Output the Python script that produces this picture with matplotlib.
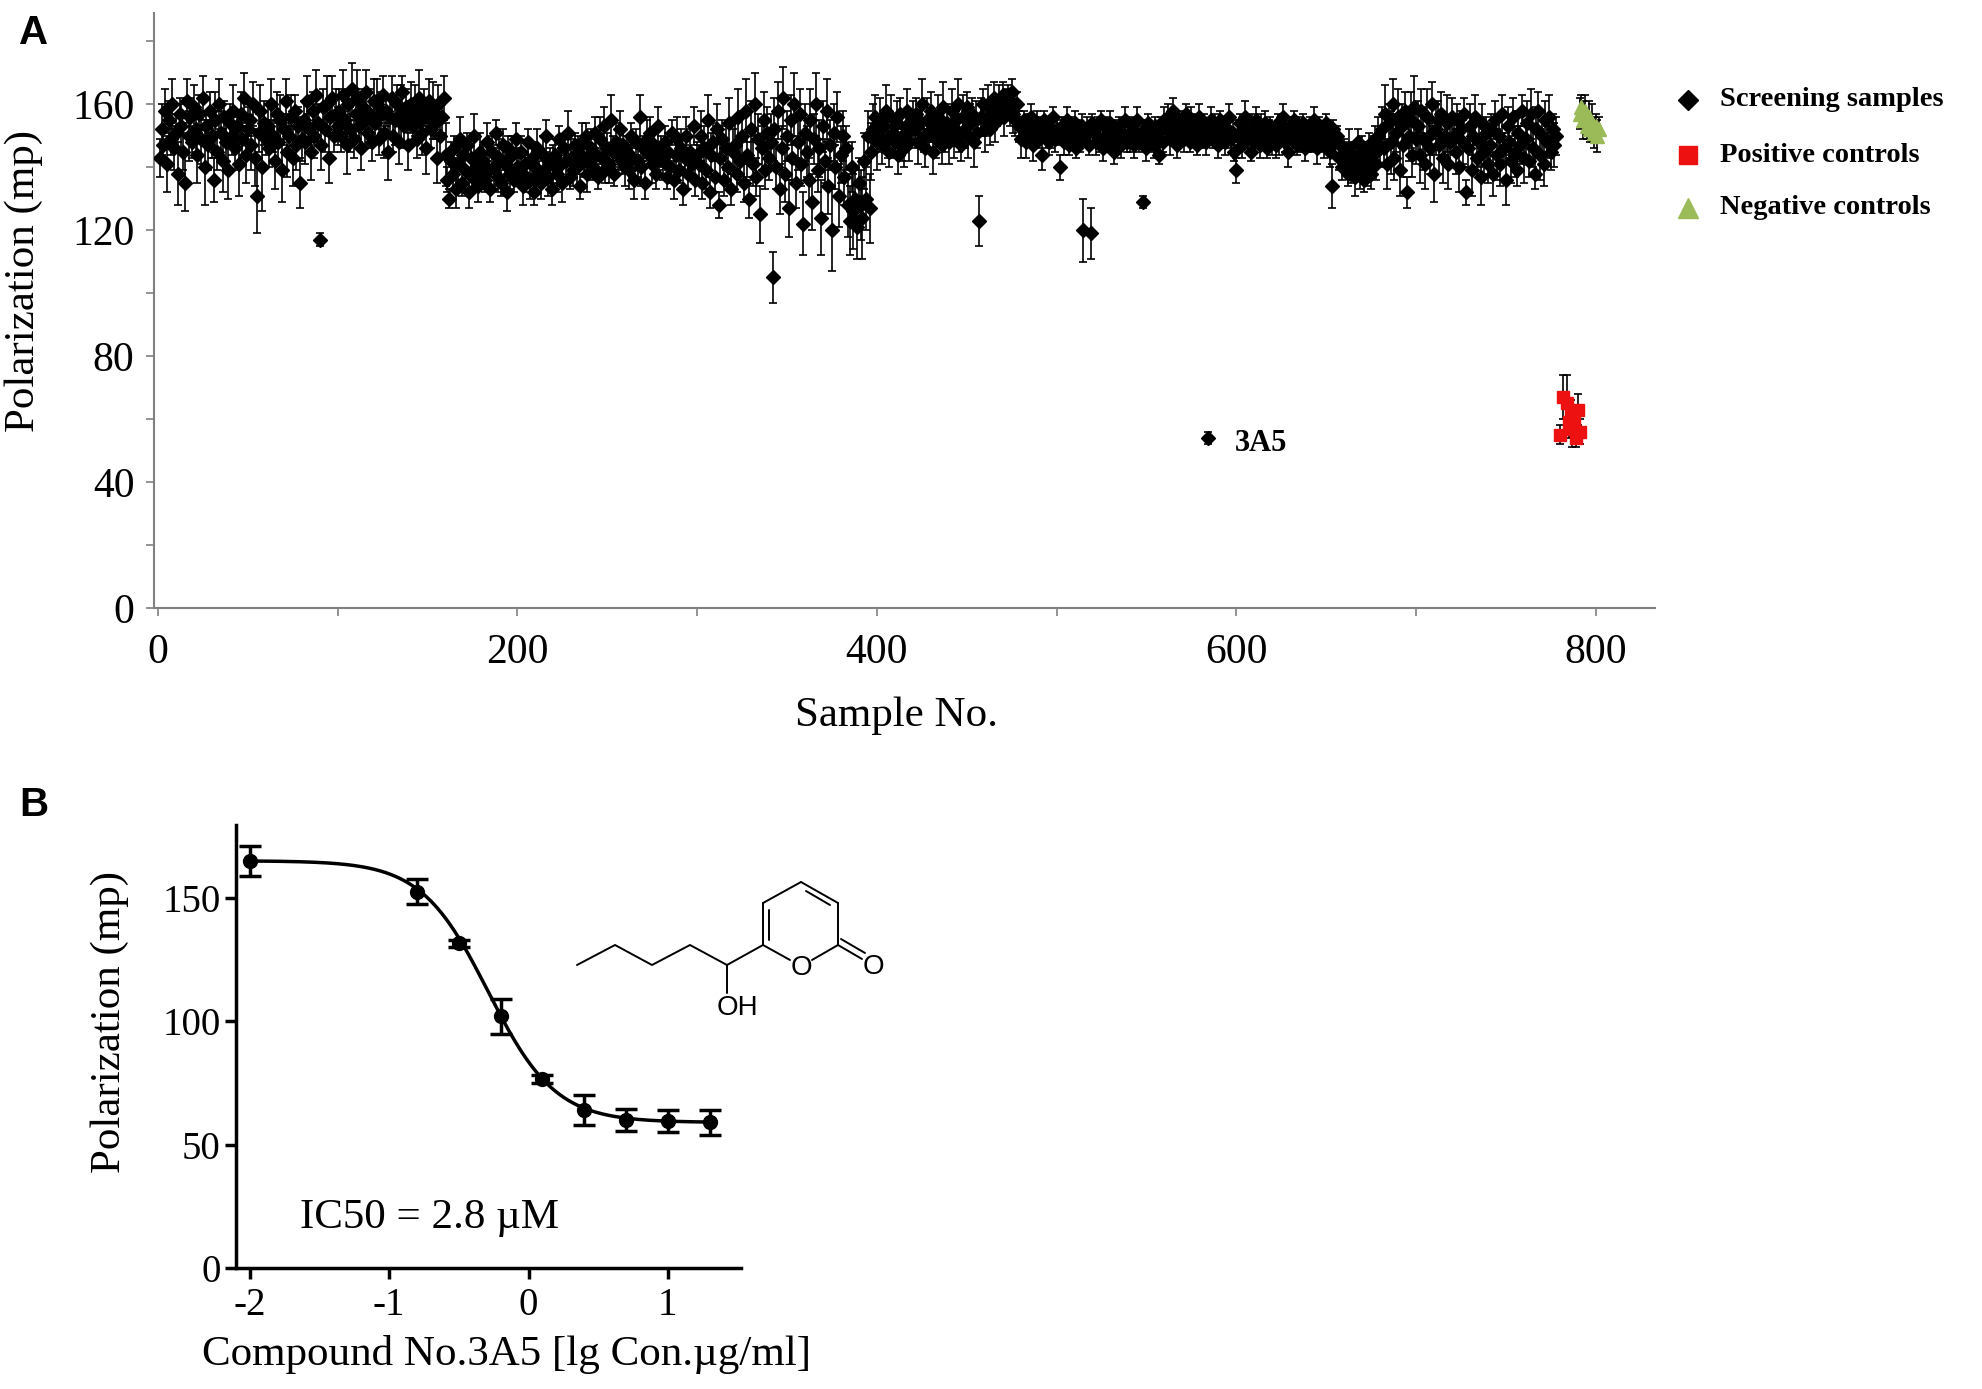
import numpy as np
import matplotlib
matplotlib.use('Agg')
import matplotlib.pyplot as plt
from matplotlib.ticker import MultipleLocator

plt.rcParams['axes.unicode_minus'] = False
SERIF = 'Liberation Serif'
SANS = 'Liberation Sans'

# ---- Panel A: screening data (sample 1..778) ----
screen_vals = np.array([
    143, 152, 147, 158, 141, 155, 149, 160, 146, 151, 138, 157, 153, 145, 135, 161, 150, 156, 148, 159,
    152, 144, 157, 149, 162, 140, 153, 147, 158, 150, 136, 155, 145, 160, 151, 142, 156, 148, 139, 154,
    150, 158, 146, 153, 141, 157, 149, 162, 144, 152, 155, 147, 160, 143, 131, 151, 158, 140, 154, 149,
    153, 146, 160, 150, 142, 157, 148, 155, 139, 152, 161, 145, 150, 156, 143, 158, 147, 153, 135, 149,
    155, 148, 161, 152, 145, 158, 150, 163, 154, 117, 147, 159, 152, 160, 143, 156, 162, 150, 157, 153,
    158, 150, 163, 155, 147, 160, 152, 165, 149, 157, 162, 153, 146, 159, 155, 164, 151, 157, 148, 161,
    154, 160, 149, 157, 163, 151, 158, 145, 156, 162, 150, 155, 160, 148, 157, 164, 153, 159, 147, 156,
    160, 153, 158, 149, 162, 155, 151, 159, 146, 157, 161, 152, 158, 154, 143, 160, 150, 156, 162, 144,
    136, 130, 142, 138, 146, 133, 141, 149, 135, 144, 139, 147, 132, 143, 137, 150, 140, 134, 145, 138,
    142, 136, 148, 139, 133, 145, 140, 151, 137, 143, 135, 147, 141, 132, 146, 138, 144, 136, 149, 140,
    139, 145, 134, 141, 137, 148, 136, 143, 132, 140, 146, 138, 135, 144, 139, 150, 137, 142, 133, 141,
    144, 138, 149, 141, 135, 146, 142, 151, 137, 143, 139, 147, 140, 145, 134, 148, 142, 150, 138, 144,
    146, 140, 151, 144, 137, 149, 143, 153, 139, 146, 141, 155, 145, 138, 148, 144, 152, 142, 147, 140,
    145, 139, 150, 143, 136, 148, 142, 156, 140, 146, 135, 149, 144, 151, 141, 147, 138, 153, 143, 145,
    142, 148, 137, 145, 140, 151, 136, 144, 149, 139, 146, 133, 143, 150, 138, 145, 141, 153, 136, 144,
    141, 150, 135, 146, 139, 155, 132, 144, 148, 137, 152, 128, 143, 149, 136, 146, 140, 154, 133, 145,
    147, 138, 156, 142, 150, 135, 158, 144, 130, 152, 141, 160, 137, 149, 125, 146, 155, 139, 151, 143,
    148, 105, 152, 140, 158, 133, 146, 162, 138, 150, 127, 155, 143, 160, 135, 148, 157, 141, 122, 151,
    145, 136, 155, 129, 149, 160, 139, 146, 124, 153, 142, 158, 134, 147, 120, 151, 140, 156, 131, 144,
    150, 137, 146, 128, 123, 140, 126, 130, 121, 135, 128, 124, 142, 130, 150, 127, 145, 152, 156, 148,
    150, 155, 147, 153, 158, 149, 145, 156, 151, 148, 154, 144, 157, 150, 146, 153, 158, 148, 152, 155,
    152, 157, 148, 154, 160, 150, 146, 155, 151, 158, 145, 153, 149, 156, 152, 147, 159, 150, 154, 148,
    153, 158, 149, 155, 160, 151, 147, 156, 152, 159, 150, 154, 157, 148, 155, 151, 123, 156, 160, 152,
    155, 160, 152, 158, 162, 154, 157, 161, 159, 163, 156, 160, 162, 158, 164, 157, 155, 160, 153, 149,
    152, 155, 148, 153, 150, 156, 147, 151, 154, 149, 152, 144, 155, 150, 153, 148, 151, 156, 149, 152,
    150, 140, 153, 148, 151, 155, 147, 152, 149, 154, 146, 151, 148, 153, 120, 150, 152, 147, 119, 154,
    151, 148, 153, 149, 155, 146, 150, 152, 148, 154, 150, 145, 152, 149, 153, 147, 151, 155, 148, 150,
    149, 153, 147, 151, 155, 148, 150, 129, 152, 146, 154, 149, 151, 147, 153, 150, 144, 152, 148, 155,
    152, 156, 149, 153, 158, 150, 147, 155, 151, 154, 149, 157, 152, 148, 155, 150, 153, 147, 156, 151,
    150, 154, 148, 54, 152, 155, 149, 153, 151, 147, 155, 150, 153, 148, 152, 156, 149, 151, 145, 139,
    150, 154, 147, 152, 156, 149, 151, 145, 153, 148, 155, 150, 147, 152, 149, 154, 146, 151, 153, 148,
    151, 147, 154, 149, 152, 156, 148, 150, 145, 153, 149, 155, 151, 147, 152, 150, 154, 146, 151, 149,
    152, 148, 155, 150, 146, 153, 149, 151, 147, 154, 150, 145, 134, 152, 148, 150, 143, 147, 140, 144,
    143, 138, 146, 140, 144, 137, 141, 148, 139, 145, 136, 143, 140, 147, 138, 144, 149, 141, 150, 146,
    152, 146, 157, 141, 154, 148, 160, 143, 151, 156, 139, 153, 147, 158, 132, 150, 155, 144, 159, 149,
    153, 144, 158, 149, 141, 156, 150, 146, 160, 138, 152, 155, 147, 157, 143, 150, 154, 141, 148, 156,
    150, 145, 155, 140, 152, 148, 157, 132, 146, 153, 139, 150, 156, 143, 148, 137, 154, 145, 151, 141,
    147, 152, 138, 155, 144, 150, 141, 157, 146, 136, 153, 148, 142, 156, 145, 139, 151, 147, 158, 143,
    149, 154, 142, 157, 146, 138, 152, 158, 144, 150, 141, 155, 148, 156, 145, 152, 147, 150,
])
screen_err = np.array([
    6, 8, 5, 7, 9, 6, 5, 8, 7, 6, 10, 5, 7, 6, 9, 7, 8, 6, 5, 7,
    7, 9, 6, 8, 7, 12, 5, 8, 6, 7, 7, 9, 6, 8, 7, 10, 5, 8, 9, 6,
    6, 8, 7, 5, 10, 7, 6, 8, 9, 7, 5, 8, 7, 9, 12, 6, 8, 14, 7, 5,
    7, 6, 8, 5, 9, 7, 6, 8, 10, 5, 7, 8, 6, 7, 9, 5, 8, 6, 8, 7,
    6, 7, 8, 5, 9, 6, 7, 8, 6, 2, 8, 6, 7, 9, 8, 6, 7, 5, 8, 6,
    7, 5, 8, 6, 9, 5, 7, 8, 6, 7, 9, 5, 7, 6, 8, 7, 5, 8, 6, 7,
    6, 8, 5, 7, 6, 8, 5, 9, 6, 7, 5, 8, 6, 7, 9, 5, 7, 6, 8, 5,
    7, 5, 8, 6, 9, 5, 7, 6, 8, 5, 7, 6, 9, 5, 8, 6, 7, 5, 7, 10,
    4, 3, 6, 5, 4, 6, 5, 7, 4, 5, 6, 4, 5, 6, 5, 7, 4, 5, 6, 4,
    5, 4, 6, 5, 4, 5, 6, 4, 5, 6, 4, 5, 5, 6, 4, 5, 6, 4, 5, 6,
    4, 5, 6, 4, 5, 4, 6, 5, 4, 5, 6, 4, 5, 6, 4, 5, 6, 4, 5, 6,
    5, 6, 4, 5, 6, 4, 5, 7, 4, 6, 5, 4, 6, 5, 4, 6, 5, 4, 6, 5,
    6, 4, 5, 6, 4, 7, 5, 6, 4, 5, 6, 8, 5, 4, 6, 5, 6, 4, 5, 6,
    5, 6, 4, 5, 6, 4, 5, 7, 6, 4, 5, 6, 4, 5, 6, 4, 5, 6, 4, 5,
    6, 5, 4, 6, 5, 4, 6, 5, 7, 4, 6, 5, 4, 6, 5, 7, 4, 6, 5, 4,
    6, 8, 5, 7, 6, 8, 5, 7, 6, 5, 8, 4, 7, 6, 5, 7, 6, 8, 5, 7,
    8, 6, 9, 7, 8, 6, 10, 7, 6, 9, 7, 10, 6, 8, 9, 7, 9, 6, 8, 7,
    9, 8, 10, 7, 9, 8, 7, 10, 9, 8, 9, 8, 7, 10, 8, 9, 8, 7, 10, 9,
    8, 7, 10, 9, 8, 10, 7, 9, 12, 8, 7, 10, 9, 8, 13, 9, 7, 8, 10, 9,
    8, 9, 7, 10, 11, 8, 12, 9, 10, 8, 11, 13, 9, 10, 8, 11, 9, 8, 7, 9,
    5, 7, 6, 5, 8, 6, 5, 7, 6, 5, 7, 6, 5, 8, 6, 5, 7, 6, 5, 6,
    6, 5, 7, 6, 8, 5, 6, 7, 5, 6, 7, 5, 6, 7, 5, 6, 8, 5, 6, 7,
    5, 7, 6, 5, 8, 6, 5, 7, 6, 5, 7, 6, 5, 8, 6, 5, 8, 6, 5, 7,
    5, 6, 5, 4, 5, 6, 4, 5, 4, 4, 6, 5, 4, 5, 4, 6, 5, 4, 5, 6,
    4, 3, 5, 4, 3, 4, 5, 3, 4, 3, 4, 5, 3, 4, 3, 4, 5, 3, 4, 3,
    3, 4, 3, 4, 3, 4, 3, 4, 3, 4, 3, 4, 3, 4, 10, 3, 4, 3, 8, 3,
    3, 4, 3, 4, 3, 4, 3, 4, 3, 4, 3, 4, 3, 4, 3, 4, 3, 4, 3, 4,
    4, 3, 4, 3, 4, 3, 4, 2, 3, 4, 3, 4, 3, 4, 3, 4, 3, 4, 3, 4,
    3, 4, 5, 3, 4, 3, 4, 3, 4, 3, 4, 3, 4, 3, 4, 3, 4, 3, 4, 3,
    4, 3, 4, 2, 3, 4, 3, 4, 3, 4, 3, 4, 3, 4, 3, 4, 3, 4, 3, 4,
    4, 3, 4, 3, 5, 3, 4, 3, 4, 3, 4, 3, 4, 5, 3, 4, 3, 4, 3, 4,
    3, 4, 3, 5, 3, 4, 3, 4, 5, 3, 4, 3, 4, 3, 4, 5, 3, 4, 3, 4,
    4, 3, 4, 3, 5, 3, 4, 3, 4, 3, 4, 5, 7, 3, 4, 3, 4, 3, 4, 5,
    5, 4, 6, 5, 4, 6, 5, 4, 6, 5, 4, 5, 6, 4, 5, 6, 4, 5, 6, 5,
    7, 6, 9, 8, 6, 10, 8, 7, 6, 9, 8, 7, 10, 6, 5, 8, 9, 7, 10, 8,
    8, 9, 7, 10, 8, 9, 6, 8, 7, 9, 8, 6, 9, 7, 8, 6, 9, 8, 7, 6,
    6, 7, 5, 8, 6, 7, 5, 4, 6, 7, 8, 6, 7, 5, 8, 9, 6, 7, 5, 6,
    6, 5, 7, 6, 8, 5, 7, 6, 5, 8, 6, 5, 7, 6, 8, 5, 7, 6, 5, 8,
    6, 7, 5, 8, 6, 5, 7, 6, 8, 5, 7, 6, 5, 7, 6, 5, 7, 6,
])
screen_x = np.arange(1, len(screen_vals) + 1)

pos_x = [780, 782, 784, 785, 786, 787, 788, 789, 790, 791]
pos_vals = [55, 67, 65, 59, 62, 57, 60, 54, 63, 56]
pos_err = [3, 7, 9, 5, 4, 6, 4, 3, 5, 4]

neg_x = [791, 792, 793, 794, 795, 796, 797, 798, 799, 800, 801, 802]
neg_vals = [157, 159, 155, 158, 153, 156, 152, 154, 151, 153, 150, 152]
neg_err = [5, 4, 6, 5, 4, 5, 4, 6, 5, 4, 5, 4]

hit_label = '3A5'
hit_x, hit_y = 584, 54

# ---- Panel B: dose response of 3A5 ----
dose_x = [-2.0, -0.8, -0.5, -0.2, 0.1, 0.4, 0.7, 1.0, 1.3]
dose_y = [165, 152.5, 131.5, 102, 76.5, 64, 60, 59.5, 59]
dose_err = [6, 5, 1.5, 7, 1.5, 6, 4.5, 4.5, 5]
fit_top, fit_bottom, fit_logic50, fit_hill = 165, 59, -0.29, 1.8

W, H = 1983, 1389
fig = plt.figure(figsize=(W / 100, H / 100), dpi=100)

# ---------------- Panel A ----------------
axA = fig.add_axes([154 / W, 1 - 608 / H, 1501 / W, 595 / H])
axA.errorbar(screen_x, screen_vals, yerr=screen_err, fmt='D', color='black',
             ms=7, ecolor='black', elinewidth=1.2, capsize=3, capthick=1.2, zorder=3)
axA.errorbar(pos_x, pos_vals, yerr=pos_err, fmt='s', color='#ee1111',
             ms=9, ecolor='black', elinewidth=1.2, capsize=3, capthick=1.2, zorder=4)
axA.errorbar(neg_x, neg_vals, yerr=neg_err, fmt='^', color='#9bbb59',
             ms=10, ecolor='black', elinewidth=1.2, capsize=3, capthick=1.2, zorder=4)
axA.text(hit_x + 15, hit_y - 1.8, hit_label, family=SERIF, fontsize=22,
         fontweight='bold', ha='left', va='center')

axA.set_xlim(-2.2, 833)
axA.set_ylim(0, 189)
axA.xaxis.set_major_locator(MultipleLocator(200))
axA.xaxis.set_minor_locator(MultipleLocator(100))
axA.yaxis.set_major_locator(MultipleLocator(40))
axA.yaxis.set_minor_locator(MultipleLocator(20))
for s in ['top', 'right']:
    axA.spines[s].set_visible(False)
for s in ['left', 'bottom']:
    axA.spines[s].set_color('#808080')
    axA.spines[s].set_linewidth(1.5)
axA.tick_params(which='both', direction='out', length=6, width=1.2, color='#808080',
                labelsize=30, pad=8)
axA.tick_params(axis='x', pad=12)
for lab in axA.get_xticklabels() + axA.get_yticklabels():
    lab.set_family(SERIF)
axA.set_xlabel('Sample No.', family=SERIF, fontsize=31)
axA.set_ylabel('Polarization (mp)', family=SERIF, fontsize=31)
axA.xaxis.set_label_coords(0.495, -0.148)
axA.yaxis.set_label_coords(-0.074, 0.55)

# ---------------- Panel B ----------------
axB = fig.add_axes([236 / W, 1 - 1268 / H, 505 / W, 443 / H])
fit_x = np.linspace(-2.0, 1.3, 300)
fit_y = fit_bottom + (fit_top - fit_bottom) / (1 + 10 ** ((fit_x - fit_logic50) * fit_hill))
axB.plot(fit_x, fit_y, color='black', lw=2.5, zorder=2)
axB.errorbar(dose_x, dose_y, yerr=dose_err, fmt='o', color='black', ms=10,
             ecolor='black', elinewidth=2.5, capsize=8, capthick=2.5, zorder=3)
axB.text(-0.71, 20.5, 'IC50 = 2.8 \u00b5M', family=SERIF, fontsize=31,
         ha='center', va='center')
axB.set_xlim(-2.1, 1.525)
axB.set_ylim(0, 179.5)
axB.set_xticks([-2, -1, 0, 1])
axB.set_yticks([0, 50, 100, 150])
for s in ['top', 'right']:
    axB.spines[s].set_visible(False)
for s in ['left', 'bottom']:
    axB.spines[s].set_linewidth(2.5)
axB.tick_params(direction='out', length=8, width=2.5, labelsize=28, pad=3)
axB.tick_params(axis='x', pad=6)
for lab in axB.get_xticklabels() + axB.get_yticklabels():
    lab.set_family(SERIF)
axB.set_xlabel('Compound No.3A5 [lg Con.\u00b5g/ml]', family=SERIF, fontsize=31)
axB.set_ylabel('Polarization (mp)', family=SERIF, fontsize=31)
axB.xaxis.set_label_coords(0.535, -0.152)
axB.yaxis.set_label_coords(-0.212, 0.555)

# ---------------- overlay: panel letters, legend, structure ----------------
ov = fig.add_axes([0, 0, 1, 1])
ov.set_xlim(0, W)
ov.set_ylim(H, 0)
ov.axis('off')
ov.patch.set_alpha(0)

ov.text(19, 44, 'A', family=SANS, fontweight='bold', fontsize=29, ha='left', va='baseline')
ov.text(19, 816, 'B', family=SANS, fontweight='bold', fontsize=29, ha='left', va='baseline')

legend_rows = [('Screening samples', 'D', 'black', 10), ('Positive controls', 's', '#ee1111', 13),
               ('Negative controls', '^', '#9bbb59', 14)]
legend_y = [100, 155, 208]
for (lab, mk, col, ms), ly in zip(legend_rows, legend_y):
    ov.plot([1688], [ly], marker=mk, color=col, ms=ms, ls='none')
    ov.text(1720, ly, lab, family=SERIF, fontweight='bold', fontsize=20.5, ha='left', va='center')

# skeletal structure of compound 3A5 (pixel positions of atoms)
chain = [(577, 965), (615, 945), (652, 965), (690, 945), (727, 965), (763, 945)]
ring = {'C6': (763, 945), 'C5': (763, 903), 'C4': (801, 882), 'C3': (838, 903),
        'C2': (838, 945), 'O1': (801, 967)}
o_carb = (873, 967)
bond_kw = dict(color='black', lw=1.4, solid_capstyle='round')
cx, cy = zip(*chain)
ov.plot(cx, cy, **bond_kw)
ov.plot([727, 727], [965, 993], **bond_kw)
ov.text(737, 1008, 'OH', family=SANS, fontsize=20, ha='center', va='center')
for a, b in [('C6', 'C5'), ('C5', 'C4'), ('C4', 'C3'), ('C3', 'C2')]:
    ov.plot([ring[a][0], ring[b][0]], [ring[a][1], ring[b][1]], **bond_kw)
# inner lines of the ring double bonds
ov.plot([769, 769], [910, 940], **bond_kw)
ov.plot([806, 830], [891, 905], **bond_kw)
# bonds to ring oxygen (shortened for the label)
ov.plot([763, 790], [945, 960], **bond_kw)
ov.plot([838, 812], [945, 960], **bond_kw)
ov.text(801, 968, 'O', family=SANS, fontsize=20, ha='center', va='center')
# exocyclic C=O
ov.plot([838, 862], [945, 959], **bond_kw)
ov.plot([841, 865], [939, 953], **bond_kw)
ov.text(o_carb[0], o_carb[1], 'O', family=SANS, fontsize=20, ha='center', va='center')

fig.savefig('out.png', dpi=100, facecolor='white')
